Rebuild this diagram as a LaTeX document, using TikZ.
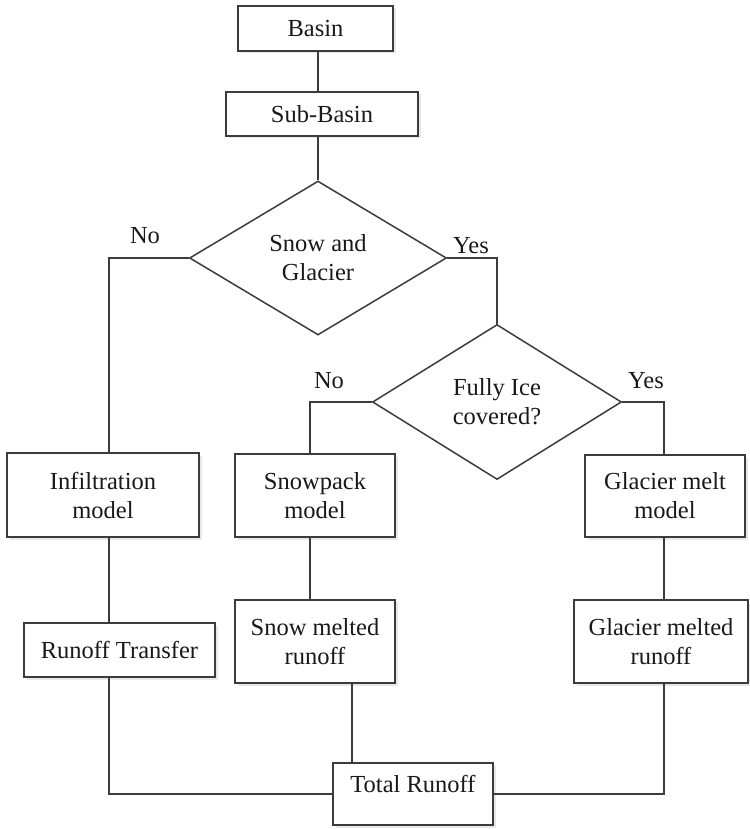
\documentclass[tikz,border=0pt]{standalone}
\usepackage{fontspec}
\setmainfont{Liberation Serif}
\usetikzlibrary{shapes.geometric,shadows}
\definecolor{linec}{HTML}{3C3C3C}
\begin{document}
\begin{tikzpicture}[x=1pt,y=-1pt,
  every node/.style={font=\fontsize{24.5}{29}\selectfont, text=black!90},
  box/.style={draw=linec, line width=1.5pt, fill=white, rectangle, inner sep=0pt, align=center,
    drop shadow={shadow xshift=2.5pt, shadow yshift=-2.5pt, opacity=0.18}},
  dia/.style={draw=linec, line width=1.5pt, fill=white, diamond, inner sep=0pt, align=center, aspect=1.6},
  conn/.style={draw=linec, line width=1.5pt},
  lbl/.style={inner sep=0pt}]
\useasboundingbox (0,0) rectangle (749,829);

\node[box, minimum width=155, minimum height=45] (basin) at (315.5,28.5) {Basin};
\node[box, minimum width=192, minimum height=44] (sub) at (322,114) {Sub-Basin};
\node[dia, minimum width=257, minimum height=154] (d1) at (318,258) {Snow and\\Glacier};
\node[dia, minimum width=249, minimum height=155] (d2) at (497,402) {Fully Ice\\covered?};

\node[box, minimum width=192, minimum height=84] (infil) at (103,495) {Infiltration\\model};
\node[box, minimum width=160, minimum height=83] (snowpack) at (315,495.5) {Snowpack\\model};
\node[box, minimum width=160, minimum height=82] (gmodel) at (665,496) {Glacier melt\\model};

\node[box, minimum width=191, minimum height=54] (rt) at (119.5,650) {Runoff Transfer};
\node[box, minimum width=160, minimum height=83] (smelt) at (315,641.5) {Snow melted\\runoff};
\node[box, minimum width=174, minimum height=83] (gmelt) at (661,641.5) {Glacier melted\\runoff};

\node[box, minimum width=160, minimum height=62] (total) at (413,794) {};
\node[lbl] (totaltext) at (413,784) {Total Runoff};

\node[lbl] (no1) at (145,236) {No};
\node[lbl] (yes1) at (471,246) {Yes};
\node[lbl] (no2) at (329,381) {No};
\node[lbl] (yes2) at (646,381) {Yes};

\coordinate (xl) at (109,258);
\coordinate (xm) at (310,402);
\coordinate (xr) at (664,402);
\coordinate (xs) at (352,700);

\draw[conn] (d1.north |- basin.south) -- (d1.north |- sub.north);
\draw[conn] (d1.north |- sub.south) -- (d1.north);
\draw[conn] (d1.west) -- (xl) -- (xl |- infil.north);
\draw[conn] (d1.east) -- (d2.north |- d1.east) -- (d2.north);
\draw[conn] (d2.west) -- (xm) -- (xm |- snowpack.north);
\draw[conn] (d2.east) -- (xr) -- (xr |- gmodel.north);
\draw[conn] (xl |- infil.south) -- (xl |- rt.north);
\draw[conn] (xm |- snowpack.south) -- (xm |- smelt.north);
\draw[conn] (xr |- gmodel.south) -- (xr |- gmelt.north);
\draw[conn] (xl |- rt.south) -- (xl |- total.west) -- (total.west);
\draw[conn] (xr |- gmelt.south) -- (xr |- total.east) -- (total.east);
\draw[conn] (xs |- smelt.south) -- (xs |- total.north);
\end{tikzpicture}
\end{document}
